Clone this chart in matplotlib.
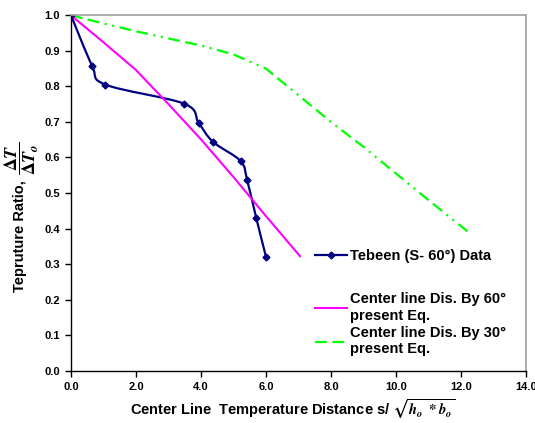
import matplotlib
matplotlib.use('Agg')
import matplotlib.pyplot as plt
from matplotlib.path import Path
from matplotlib.patches import PathPatch
from matplotlib.lines import Line2D
from matplotlib.ticker import FormatStrFormatter
import numpy as np

# Tebeen (S- 60) measured data
data_x = [0.0, 0.65, 1.06, 3.49, 3.93, 4.37, 5.22, 5.42, 5.70, 6.0]
data_y = [1.0, 0.858, 0.805, 0.751, 0.697, 0.644, 0.590, 0.537, 0.430, 0.321]

# center line by 60 deg, present equation
eq60_x = [0, 1, 2, 3, 4, 5, 6, 7.05]
eq60_y = [1.0, 0.924, 0.846, 0.75, 0.651, 0.545, 0.435, 0.322]

# center line by 30 deg, present equation
eq30_x = [0, 1, 2, 3, 4, 5, 6, 7, 8, 9, 10, 11, 12.3]
eq30_y = [1.0, 0.977, 0.955, 0.935, 0.915, 0.89, 0.85, 0.775, 0.70, 0.63, 0.555, 0.48, 0.385]

x_ticks = [0, 2, 4, 6, 8, 10, 12, 14]
y_ticks = [0.0, 0.1, 0.2, 0.3, 0.4, 0.5, 0.6, 0.7, 0.8, 0.9, 1.0]

navy = '#000080'
magenta = '#FF00FF'
green = '#00FF00'

plt.rcParams['font.family'] = ['Liberation Sans', 'DejaVu Sans']
plt.rcParams['font.weight'] = 'bold'
plt.rcParams['mathtext.fontset'] = 'stix'
plt.rcParams['lines.scale_dashes'] = False


def smooth_path(xs, ys):
    # excel style smoothed line: cubic bezier through each point
    pts = np.column_stack([xs, ys])
    n = len(pts)
    verts = [pts[0]]
    codes = [Path.MOVETO]
    for i in range(n - 1):
        p0 = pts[i - 1] if i > 0 else pts[i]
        p1 = pts[i]
        p2 = pts[i + 1]
        p3 = pts[i + 2] if i + 2 < n else pts[i + 1]
        c1 = p1 + (p2 - p0) / 6.0
        c2 = p2 - (p3 - p1) / 6.0
        verts += [c1, c2, p2]
        codes += [Path.CURVE4] * 3
    return Path(verts, codes)


fig = plt.figure(figsize=(5.35, 4.23), dpi=100)
ax = fig.add_axes([0.1327, 0.1236, 0.8503, 0.8402])

dash30 = (0, (8.5, 4, 8.5, 4, 1.5, 4, 1.5, 4))

ax.plot(eq30_x, eq30_y, color=green, lw=1.6, linestyle=dash30)
ax.plot(eq60_x, eq60_y, color=magenta, lw=1.5)
ax.add_patch(PathPatch(smooth_path(data_x, data_y), facecolor='none',
                       edgecolor=navy, lw=1.6))
ax.plot(data_x, data_y, ls='none', marker='D', markersize=3.5, color=navy)

ax.set_xlim(0, 14)
ax.set_ylim(0, 1.0)
ax.set_xticks(x_ticks)
ax.set_yticks(y_ticks)
ax.xaxis.set_major_formatter(FormatStrFormatter('%.1f'))
ax.yaxis.set_major_formatter(FormatStrFormatter('%.1f'))
ax.tick_params(direction='out', length=4, width=1, labelsize=8, pad=4)

for s in ['top', 'right']:
    ax.spines[s].set_color('#a0a0a0')
    ax.spines[s].set_linewidth(1.2)
for s in ['left', 'bottom']:
    ax.spines[s].set_color('black')
    ax.spines[s].set_linewidth(1.0)

ax.set_ylabel('Tepruture Ratio,', fontsize=10.5, fontweight='bold')
ax.yaxis.set_label_coords(-0.0967, 0.379)
# the fraction is drawn bigger than the label text
fig.text(0.0402, 0.6265, r'$\dfrac{\Delta T}{\Delta T_o}$', fontsize=13,
         rotation=90, ha='center', va='center', rotation_mode='anchor')

ax.set_xlabel(r'Center Line  Temperature Distance s/ $\sqrt{h_o\ *b_o}$',
              fontsize=10.5, fontweight='bold')
ax.xaxis.set_label_coords(0.486, -0.075)

h1 = Line2D([], [], color=navy, lw=1.6, marker='D', markersize=3.5)
h2 = Line2D([], [], color=magenta, lw=1.5)
h3 = Line2D([], [], color=green, lw=1.6, linestyle=(0, (8.5, 4)))

leg1 = ax.legend([h1], ['Tebeen (S- 60°) Data'], loc='center left',
                 bbox_to_anchor=(0.523, 0.3227), frameon=False, fontsize=10.5,
                 handlelength=2.2, handletextpad=0.2, borderaxespad=0)
ax.add_artist(leg1)
leg2 = ax.legend([h2, h3], ['Center line Dis. By 60°\npresent Eq.',
                            'Center line Dis. By 30°\npresent Eq.'],
                 loc='upper left', bbox_to_anchor=(0.523, 0.237), frameon=False,
                 fontsize=10.5, handlelength=2.2, handletextpad=0.2,
                 borderaxespad=0, labelspacing=0.25)
for t in leg2.get_texts():
    t.set_linespacing(1.2)

fig.savefig('out.png', dpi=100)
